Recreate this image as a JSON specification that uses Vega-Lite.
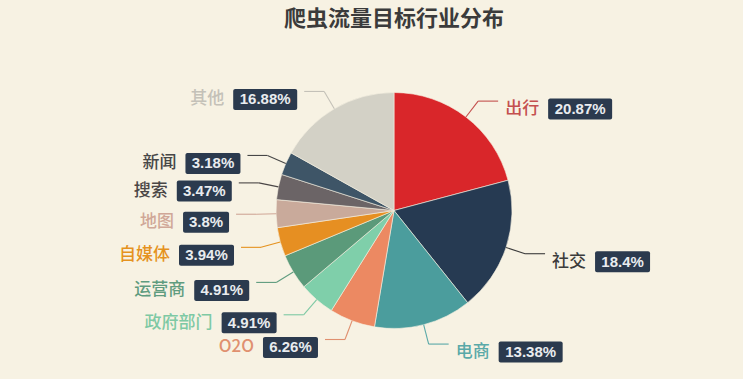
{
  "$schema": "https://vega.github.io/schema/vega-lite/v6.json",
  "width": 698,
  "height": 337,
  "autosize": {"type": "none"},
  "padding": {"left": 45, "top": 42, "right": 0, "bottom": 0},
  "background": "#f7f2e3",
  "title": {"text": "爬虫流量目标行业分布", "fontSize": 22, "font": "Noto Sans CJK SC", "fontWeight": "bold", "color": "#3b3b3b", "anchor": "middle", "offset": 11},
  "config": {"view": {"stroke": null}},
  "data": {"values": [
    {"i": 1, "name": "出行", "share": 20.87},
    {"i": 2, "name": "社交", "share": 18.4},
    {"i": 3, "name": "电商", "share": 13.38},
    {"i": 4, "name": "O2O", "share": 6.26},
    {"i": 5, "name": "政府部门", "share": 4.91},
    {"i": 6, "name": "运营商", "share": 4.91},
    {"i": 7, "name": "自媒体", "share": 3.94},
    {"i": 8, "name": "地图", "share": 3.8},
    {"i": 9, "name": "搜索", "share": 3.47},
    {"i": 10, "name": "新闻", "share": 3.18},
    {"i": 11, "name": "其他", "share": 16.88}
  ]},
  "layer": [
    {
      "mark": {"type": "arc", "outerRadius": 118, "stroke": "#f7f2e3", "strokeWidth": 0.6},
      "encoding": {
        "theta": {"field": "share", "type": "quantitative", "stack": true},
        "order": {"field": "i", "type": "quantitative"},
        "color": {
          "field": "name", "type": "nominal", "legend": null,
          "scale": {
            "domain": ["出行", "社交", "电商", "O2O", "政府部门", "运营商", "自媒体", "地图", "搜索", "新闻", "其他"],
            "range": ["#d9262a", "#263a52", "#4b9d9d", "#ec8962", "#7fcfaa", "#5b9a7a", "#e68f22", "#c9aa9b", "#6b6466", "#3e5567", "#d3d1c6"]
          }
        }
      }
    },
    {
      "transform": [
        {"window": [{"op": "sum", "field": "share", "as": "cum"}], "sort": [{"field": "i"}], "frame": [null, 0]},
        {"calculate": "(datum.cum - datum.share/2)/100*2*PI", "as": "mid"},
        {"calculate": "sin(datum.mid)", "as": "s"},
        {"calculate": "cos(datum.mid)", "as": "c"},
        {"calculate": "datum.s >= 0 ? 1 : -1", "as": "side"},
        {"calculate": "118*datum.s", "as": "x0"},
        {"calculate": "118*datum.c", "as": "y0"},
        {"calculate": "138*datum.s", "as": "x1"},
        {"calculate": "138*datum.c", "as": "y1"},
        {"calculate": "datum.x1 + datum.side*20", "as": "x2"},
        {"calculate": "datum.y1 - 8", "as": "ly"},
        {"calculate": "datum.ly - 10.5", "as": "yb"},
        {"calculate": "datum.ly + 10.5", "as": "yt"},
        {"calculate": "datum.share + '%'", "as": "pct"},
        {"calculate": "9*length(datum.pct) + 10", "as": "bw"},
        {"calculate": "17*length(datum.name)", "as": "nw"},
        {"calculate": "datum.side > 0 ? datum.x2 + 16 + datum.nw : datum.x2 - 7 - datum.bw", "as": "bl"},
        {"calculate": "datum.bl + datum.bw", "as": "br"},
        {"calculate": "(datum.bl + datum.br)/2", "as": "bc"},
        {"calculate": "datum.side > 0 ? datum.x2 + 7 + datum.nw : datum.bl - 9", "as": "nx"}
      ],
      "layer": [
        {
          "mark": {"type": "rule", "strokeWidth": 1.1},
          "encoding": {
            "x": {"field": "x0", "type": "quantitative", "axis": null, "scale": {"domain": [-349, 349], "nice": false, "zero": false}},
            "y": {"field": "y0", "type": "quantitative", "axis": null, "scale": {"domain": [-168.5, 168.5], "nice": false, "zero": false}},
            "x2": {"field": "x1"},
            "y2": {"field": "y1"},
            "color": {"field": "name", "type": "nominal", "legend": null}
          }
        },
        {
          "mark": {"type": "rule", "strokeWidth": 1.1},
          "encoding": {
            "x": {"field": "x1", "type": "quantitative"},
            "y": {"field": "y1", "type": "quantitative"},
            "x2": {"field": "x2"},
            "color": {"field": "name", "type": "nominal", "legend": null}
          }
        },
        {
          "mark": {"type": "rect", "color": "#2b3a4e", "cornerRadius": 2},
          "encoding": {
            "x": {"field": "bl", "type": "quantitative"},
            "x2": {"field": "br"},
            "y": {"field": "yb", "type": "quantitative"},
            "y2": {"field": "yt"}
          }
        },
        {
          "mark": {"type": "text", "align": "center", "baseline": "middle", "font": "Liberation Sans", "fontSize": 15, "fontWeight": "bold", "color": "#e9ecef"},
          "encoding": {
            "x": {"field": "bc", "type": "quantitative"},
            "y": {"field": "ly", "type": "quantitative"},
            "text": {"field": "pct"}
          }
        },
        {
          "mark": {"type": "text", "align": "right", "baseline": "middle", "font": "Noto Sans CJK SC", "fontSize": 17, "fontWeight": 500},
          "encoding": {
            "x": {"field": "nx", "type": "quantitative"},
            "y": {"field": "ly", "type": "quantitative"},
            "text": {"field": "name"},
            "color": {
              "field": "name", "type": "nominal", "legend": null,
              "scale": {
                "domain": ["出行", "社交", "电商", "O2O", "政府部门", "运营商", "自媒体", "地图", "搜索", "新闻", "其他"],
                "range": ["#c4504e", "#3c3c3c", "#5aa9a8", "#e0906f", "#7ec9a4", "#5f9c7f", "#e5921e", "#d0a797", "#4a4646", "#474747", "#c4c1b8"]
              }
            }
          }
        }
      ]
    }
  ],
  "resolve": {"scale": {"color": "independent"}}
}
